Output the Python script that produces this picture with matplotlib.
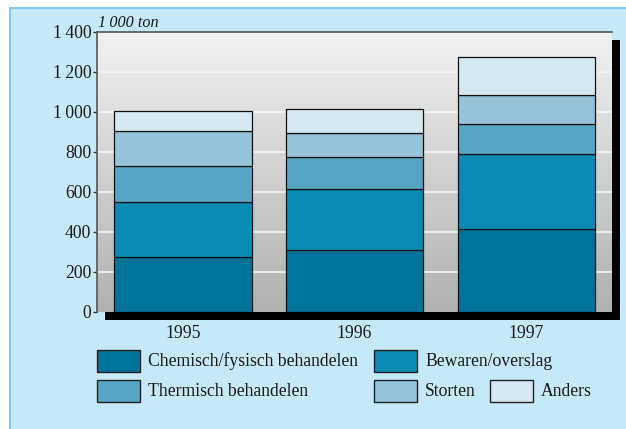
import matplotlib.pyplot as plt
import numpy as np
from matplotlib.patches import Rectangle

plt.rcParams['font.family'] = ['Liberation Serif', 'DejaVu Serif']

years = ['1995', '1996', '1997']
series = ['Chemisch/fysisch behandelen', 'Bewaren/overslag',
          'Thermisch behandelen', 'Storten', 'Anders']
chemisch = [276, 312, 417]
bewaren = [276, 303, 375]
thermisch = [180, 162, 148]
storten = [173, 120, 145]
anders = [100, 118, 188]
values = [chemisch, bewaren, thermisch, storten, anders]
colors = ['#00739a', '#0b8bb3', '#57a5c5', '#95c3da', '#d6e8f1']
yticks = [0, 200, 400, 600, 800, 1000, 1200, 1400]
ytick_labels = ['0', '200', '400', '600', '800', '1\u2009000', '1\u2009200', '1\u2009400']

W, H = 626, 429
fig = plt.figure(figsize=(W / 100, H / 100), dpi=100)
fig.patch.set_facecolor('white')

# light blue panel, runs off the right and bottom edges
fig.patches.append(Rectangle((10 / W, -0.05), 1.1, 1.05 - 8 / H, transform=fig.transFigure,
                             facecolor='#c6e9f9', edgecolor='#6cc8f5', lw=1.2, zorder=0))

x0, x1, y0, y1 = 97, 612, 32, 312
# drop shadow
fig.patches.append(Rectangle(((x0 + 8) / W, 1 - (y1 + 8) / H), (x1 - x0) / W, (y1 - y0) / H,
                             transform=fig.transFigure, facecolor='black', lw=0, zorder=1))

ax = fig.add_axes([x0 / W, 1 - y1 / H, (x1 - x0) / W, (y1 - y0) / H])
ax.set_zorder(2)
ax.set_xlim(-0.5, 2.5)
ax.set_ylim(0, 1400)

grad = np.linspace(0, 1, 256).reshape(-1, 1)
ax.imshow(grad, extent=[-0.5, 2.5, 0, 1400], aspect='auto', origin='upper',
          cmap=plt.matplotlib.colors.LinearSegmentedColormap.from_list('g', ['#f1f1f1', '#b1b1b1']),
          zorder=0)
for t in yticks[1:-1]:
    ax.axhline(t, color='#f4f4f4', lw=1.2, zorder=1)

x = np.arange(len(years))
bottom = np.zeros(len(years))
for name, vals, c in zip(series, values, colors):
    ax.bar(x, vals, 0.8, bottom=bottom, color=c, edgecolor='#111111', lw=0.9, zorder=3)
    bottom += np.array(vals)

for s in ['right', 'bottom']:
    ax.spines[s].set_visible(False)
for s in ['left', 'top']:
    ax.spines[s].set_color('#555555')
    ax.spines[s].set_linewidth(1.2)

ax.set_yticks(yticks)
ax.set_yticklabels(ytick_labels, fontsize=12.7, color='#1a1a1a')
ax.tick_params(axis='y', length=3, width=1, color='#333333', pad=1)
ax.set_xticks(x)
ax.set_xticklabels(years, fontsize=12.7, color='#1a1a1a')
ax.tick_params(axis='x', length=0, pad=9)

fig.text(98 / W, 1 - 27 / H, '1\u2009000 ton', fontsize=11.7, style='italic', color='#1a1a1a')

# legend
leg = [(0, 97, 148, 361), (1, 374, 425, 361), (2, 97, 148, 391), (3, 374, 425, 391), (4, 490, 541, 391)]
for i, px, tx, cy in leg:
    fig.patches.append(Rectangle((px / W, 1 - (cy + 11) / H), 43 / W, 22 / H,
                                 transform=fig.transFigure, facecolor=colors[i],
                                 edgecolor='#222222', lw=1, zorder=3))
    fig.text(tx / W, 1 - cy / H, series[i], fontsize=12.7, va='center', color='#1a1a1a')

fig.savefig('out.png', dpi=100)
